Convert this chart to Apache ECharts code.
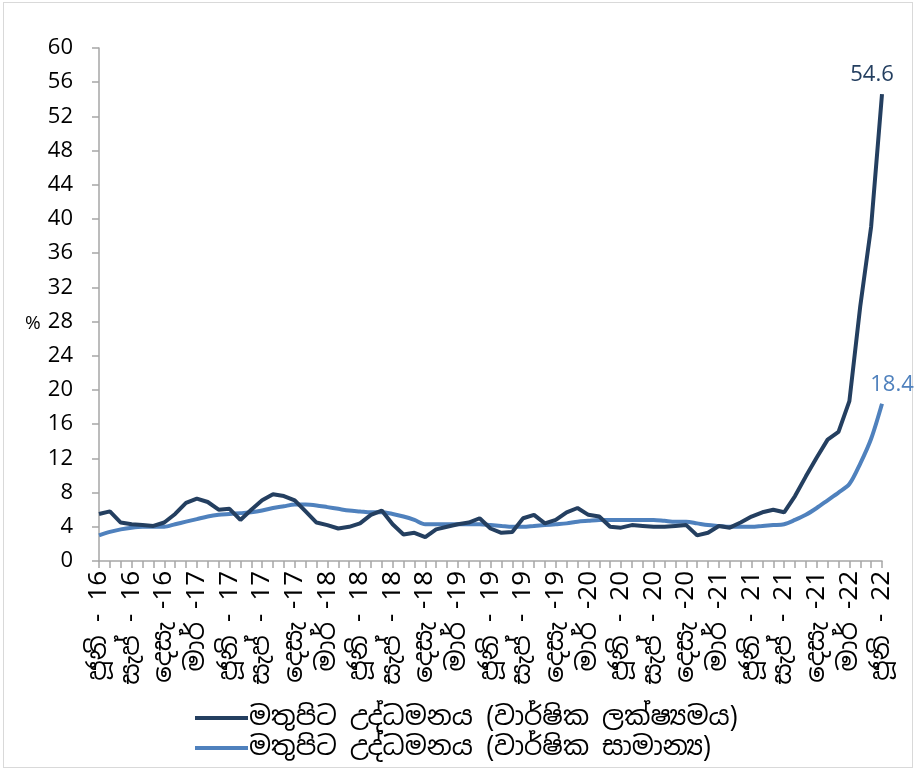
<!DOCTYPE html>
<html>
<head>
<meta charset="utf-8">
<script src="https://cdn.jsdelivr.net/npm/echarts@6/dist/echarts.min.js"></script>
<style>
  html, body { margin: 0; padding: 0; background: #fff; }
  #frame { position: absolute; left: 3px; top: 2px; width: 908px; height: 764px; border: 1px solid #d9d9d9; }
  #main { position: absolute; left: 0; top: 0; width: 916px; height: 770px; }
</style>
</head>
<body>
<div id="frame"></div>
<div id="main"></div>
<script>
// මාස නාම (ජූනි 2016 සිට ජූනි 2022 දක්වා)
const monthNames = ['ජන', 'පෙබ', 'මාර්', 'අප්‍රේ', 'මැයි', 'ජූනි', 'ජූලි', 'අගෝ', 'සැප්', 'ඔක්', 'නොවැ', 'දෙසැ']
const monthSep = [' -', ' -', ' -', ' -', ' -', ' - ', ' -', ' -', ' - ', ' -', ' -', ' -']
const years = [16, 17, 18, 19, 20, 21, 22]

// වාර්ෂික ලක්ෂ්‍යමය
const pointToPoint = [
  5.5, 5.8, 4.5, 4.3, 4.2, 4.1, 4.5,
  5.5, 6.8, 7.3, 6.9, 6.0, 6.1, 4.8, 6.0, 7.1, 7.8, 7.6, 7.1,
  5.8, 4.5, 4.2, 3.8, 4.0, 4.4, 5.4, 5.9, 4.3, 3.1, 3.3, 2.8,
  3.7, 4.0, 4.3, 4.5, 5.0, 3.8, 3.3, 3.4, 5.0, 5.4, 4.4, 4.8,
  5.7, 6.2, 5.4, 5.2, 4.0, 3.9, 4.2, 4.1, 4.0, 4.0, 4.1, 4.2,
  3.0, 3.3, 4.1, 3.9, 4.5, 5.2, 5.7, 6.0, 5.7, 7.6, 9.9, 12.1,
  14.2, 15.1, 18.7, 29.8, 39.1, 54.6
]
// වාර්ෂික සාමාන්‍ය
const annualAvg = [
  3.0, 3.4, 3.7, 3.9, 4.0, 4.0, 4.0,
  4.3, 4.6, 4.9, 5.2, 5.4, 5.5, 5.6, 5.7, 5.9, 6.2, 6.4, 6.6,
  6.6, 6.5, 6.3, 6.1, 5.9, 5.8, 5.7, 5.7, 5.5, 5.2, 4.8, 4.3,
  4.3, 4.3, 4.3, 4.3, 4.3, 4.2, 4.1, 4.0, 4.0, 4.1, 4.2, 4.3,
  4.4, 4.6, 4.7, 4.8, 4.8, 4.8, 4.8, 4.8, 4.8, 4.7, 4.6, 4.6,
  4.4, 4.2, 4.1, 4.0, 4.0, 4.0, 4.1, 4.2, 4.3, 4.8, 5.4, 6.2,
  7.1, 8.0, 9.0, 11.4, 14.3, 18.4
]
const seriesNames = ['මතුපිට උද්ධමනය (වාර්ෂික ලක්ෂ්‍යමය)', 'මතුපිට උද්ධමනය (වාර්ෂික සාමාන්‍ය)']

let categories = []
years.forEach(y => {
  monthNames.forEach((m, i) => {
    if ((y === 16 && i < 5) || (y === 22 && i > 5)) return
    categories.push(m + monthSep[i] + y)
  })
})

const fontNum = '"Open Sans", Lato, sans-serif'
const fontSi = '"Noto Sans Sinhala", "Noto Sans", "DejaVu Sans", sans-serif'
const last = pointToPoint.length - 1

let myChart = echarts.init(document.getElementById('main'))
let option = {
  animation: false,
  grid: { left: 99, right: 34, top: 48, bottom: 209, containLabel: false },
  graphic: [{
    type: 'text',
    left: 25,
    top: 314,
    style: { text: '%', fontSize: 19, fill: '#000', fontFamily: fontNum }
  }],
  legend: {
    orient: 'vertical',
    left: 190,
    top: 700,
    icon: 'rect',
    itemWidth: 53,
    itemHeight: 4,
    itemGap: 4,
    textStyle: { fontSize: 26, color: '#000', fontFamily: fontSi, padding: [0, 0, 0, -4] },
    data: seriesNames
  },
  xAxis: {
    type: 'category',
    boundaryGap: false,
    data: categories,
    axisLine: { lineStyle: { color: '#a6a6a6', width: 1.5 } },
    axisTick: { show: true, interval: 0, length: 7, lineStyle: { color: '#a6a6a6', width: 1.5 } },
    axisLabel: {
      interval: 2,
      rotate: 90,
      margin: 10,
      fontSize: 26,
      color: '#000',
      fontFamily: fontSi
    },
    splitLine: { show: false }
  },
  yAxis: {
    type: 'value',
    min: 0,
    max: 60,
    interval: 4,
    axisLine: { show: true, lineStyle: { color: '#a6a6a6', width: 1.5 } },
    axisTick: { show: true, length: 7, lineStyle: { color: '#a6a6a6', width: 1.5 } },
    axisLabel: { fontSize: 22, color: '#000', margin: 26, fontFamily: fontNum },
    splitLine: { show: false }
  },
  series: [
    {
      name: seriesNames[0],
      type: 'line',
      data: pointToPoint,
      color: '#243f60',
      lineStyle: { width: 4, color: '#243f60' },
      symbol: 'circle',
      symbolSize: 0,
      showSymbol: true,
      z: 3,
      label: {
        show: true,
        position: 'top',
        distance: 8,
        offset: [-10, 0],
        fontSize: 22,
        color: '#243f60',
        fontFamily: fontNum,
        formatter: p => p.dataIndex === last ? p.value.toFixed(1) : ''
      }
    },
    {
      name: seriesNames[1],
      type: 'line',
      data: annualAvg,
      smooth: 0.3,
      color: '#4f81bd',
      lineStyle: { width: 4, color: '#4f81bd' },
      symbol: 'circle',
      symbolSize: 0,
      showSymbol: true,
      z: 2,
      label: {
        show: true,
        position: 'top',
        distance: 8,
        offset: [10, 0],
        fontSize: 22,
        color: '#4f81bd',
        fontFamily: fontNum,
        formatter: p => p.dataIndex === last ? p.value.toFixed(1) : ''
      }
    }
  ]
}
myChart.setOption(option)
window.addEventListener('resize', function () {
  myChart.resize()
}, false)
</script>
</body>
</html>
